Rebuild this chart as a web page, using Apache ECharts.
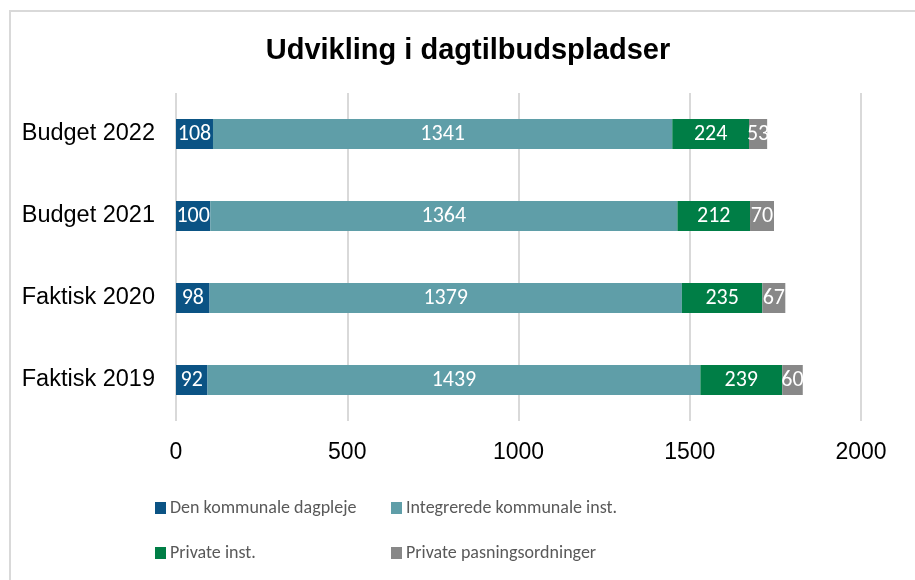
<!DOCTYPE html>
<html>
<head>
<meta charset="utf-8">
<script src="https://cdn.jsdelivr.net/npm/echarts@6/dist/echarts.min.js"></script>
<style>
  html, body { margin: 0; padding: 0; background: #fff; }
  #chart { width: 915px; height: 580px; }
</style>
</head>
<body>
<div id="chart"></div>
<script>
  var categories = ['Faktisk 2019', 'Faktisk 2020', 'Budget 2021', 'Budget 2022'];
  var dagpleje = [92, 98, 100, 108];
  var integrerede = [1439, 1379, 1364, 1341];
  var privateInst = [239, 235, 212, 224];
  var pasning = [60, 67, 70, 53];
  var xTicks = [0, 500, 1000, 1500, 2000];

  var seriesNames = ['Den kommunale dagpleje', 'Integrerede kommunale inst.', 'Private inst.', 'Private pasningsordninger'];
  var seriesData = [dagpleje, integrerede, privateInst, pasning];
  var colors = ['#0b5384', '#5f9ea8', '#007e46', '#888888'];

  var labelFont = 'Carlito, "Open Sans", sans-serif';

  var chart = echarts.init(document.getElementById('chart'));

  var series = [];
  for (var i = 0; i < seriesNames.length; i++) {
    series.push({
      name: seriesNames[i],
      type: 'bar',
      stack: 'total',
      barWidth: 30,
      data: seriesData[i],
      itemStyle: { color: colors[i] },
      label: {
        show: true,
        position: 'inside',
        color: '#ffffff',
        fontFamily: labelFont,
        fontSize: 22
      }
    });
  }

  // legend laid out as 2x2 like the original
  var legendPos = [[155, 499], [391, 499], [155, 544], [391, 544]];
  var legends = [];
  for (var j = 0; j < seriesNames.length; j++) {
    legends.push({
      data: [seriesNames[j]],
      left: legendPos[j][0],
      top: legendPos[j][1],
      padding: 0,
      itemWidth: 11,
      itemHeight: 12,
      itemGap: 0,
      icon: 'rect',
      selectedMode: false,
      textStyle: { color: '#595959', fontFamily: labelFont, fontSize: 18, padding: [0, 0, 0, -1] }
    });
  }

  var option = {
    animation: false,
    backgroundColor: '#fff',
    title: {
      text: 'Udvikling i dagtilbudspladser',
      left: 463,
      textAlign: 'center',
      top: 31,
      textStyle: { fontFamily: 'Arial, "Liberation Sans", sans-serif', fontWeight: 'bold', fontSize: 29, color: '#000' }
    },
    graphic: [{
      type: 'rect',
      shape: { x: 10, y: 11, width: 1000, height: 1000 },
      style: { fill: 'none', stroke: '#d9d9d9', lineWidth: 2 },
      silent: true
    }],
    legend: legends,
    grid: { left: 176, right: 54, top: 93, bottom: 159 },
    xAxis: {
      type: 'value',
      min: xTicks[0],
      max: xTicks[xTicks.length - 1],
      interval: 500,
      axisLine: { show: false },
      axisTick: { show: false },
      splitLine: { lineStyle: { color: '#d9d9d9', width: 2 } },
      axisLabel: {
        color: '#000',
        fontFamily: 'Arial, "Liberation Sans", sans-serif',
        fontSize: 23,
        margin: 20,
        formatter: function (v) { return String(v); }
      }
    },
    yAxis: {
      type: 'category',
      data: categories,
      axisLine: { show: false },
      axisTick: { show: false },
      axisLabel: { color: '#000', fontFamily: 'Arial, "Liberation Sans", sans-serif', fontSize: 23.5, margin: 21 }
    },
    series: series
  };

  chart.setOption(option);
</script>
</body>
</html>
